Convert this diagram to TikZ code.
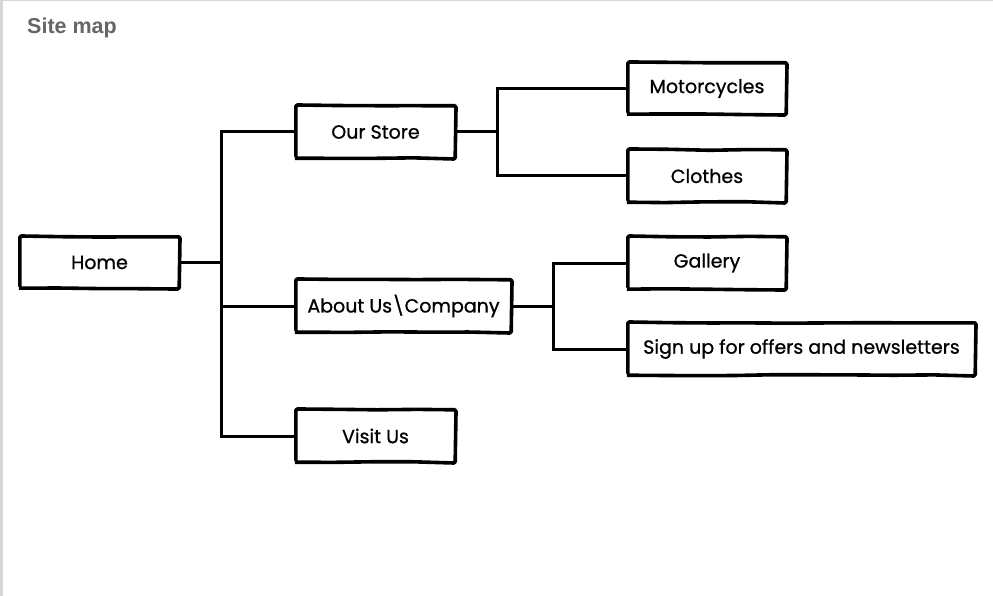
\documentclass[tikz,border=0pt]{standalone}
\usepackage{fontspec}
\setmainfont{Liberation Sans}
\newfontfamily\boxfont[FakeBold=0.8]{Poppins}
\usetikzlibrary{decorations.pathmorphing}
\definecolor{titlegray}{RGB}{102,102,102}
\definecolor{framegray}{RGB}{214,214,214}
\begin{document}
\begin{tikzpicture}[x=1pt,y=-1pt,
  sketchbox/.style={fill=white, inner sep=0pt, minimum height=52pt,
    font=\boxfont\fontsize{19}{22}\selectfont},
  outline/.style={draw=black, line width=3.6pt, line join=round, rounded corners=1.5pt,
    decorate, decoration={random steps, segment length=40pt, amplitude=0.5pt}},
  link/.style={draw=black, line width=3pt}]
  \pgfmathsetseed{7}
  \useasboundingbox (0,0) rectangle (993,596);
  % window frame
  \fill[framegray] (0,0) rectangle (3,596);
  \draw[framegray, line width=1.2pt] (0,0.6) -- (993,0.6);
  % title
  \node[anchor=base west, text=titlegray, font=\bfseries\fontsize{21.5}{24}\selectfont,
        inner sep=0pt] (title) at (27,34) {Site map};

  % tree connectors (drawn first so the boxes cover their ends)
  \coordinate (hubA) at (221,262.5);
  \coordinate (hubB) at (497,132);
  \coordinate (hubC) at (553,306);
  \coordinate (homeE) at (179,262.5);
  \coordinate (storeW) at (296,132);
  \coordinate (storeE) at (455,132);
  \coordinate (aboutW) at (296,306);
  \coordinate (aboutE) at (511,306);
  \coordinate (visitW) at (296,436);
  \coordinate (motoW) at (628,88.5);
  \coordinate (clothesW) at (628,176);
  \coordinate (galleryW) at (628,263);
  \coordinate (signupW) at (628,349);
  \draw[link] (homeE) -- (hubA);
  \draw[link] (storeW) -| (hubA |- visitW) -- (visitW);
  \draw[link] (hubA |- aboutW) -- (aboutW);
  \draw[link] (storeE) -- (hubB);
  \draw[link] (motoW) -| (hubB |- clothesW) -- (clothesW);
  \draw[link] (aboutE) -- (hubC);
  \draw[link] (galleryW) -| (hubC |- signupW) -- (signupW);

  % pages
  \node[sketchbox, minimum width=159pt, minimum height=51pt] (home)  at (99.5,262.5) {Home};
  \node[sketchbox, minimum width=159pt] (store) at (375.5,132) {Our Store};
  \node[sketchbox, minimum width=215pt] (about) at (403.5,306) {About Us\textbackslash Company};
  \node[sketchbox, minimum width=159pt] (visit) at (375.5,436) {Visit Us};
  \node[sketchbox, minimum width=158pt, minimum height=51pt] (moto) at (707,88.5) {Motorcycles};
  \node[sketchbox, minimum width=158pt] (clothes) at (707,176) {Clothes};
  \node[sketchbox, minimum width=158pt] (gallery) at (707,263) {Gallery};
  \node[sketchbox, minimum width=347pt] (signup) at (801.5,349) {Sign up for offers and newsletters};

  % hand-drawn outlines of the page boxes
  \foreach \n in {home,store,about,visit,moto,clothes,gallery,signup}
    \draw[outline] (\n.south west) -- (\n.north west) -- (\n.north east)
      -- (\n.south east) -- cycle;
\end{tikzpicture}
\end{document}
